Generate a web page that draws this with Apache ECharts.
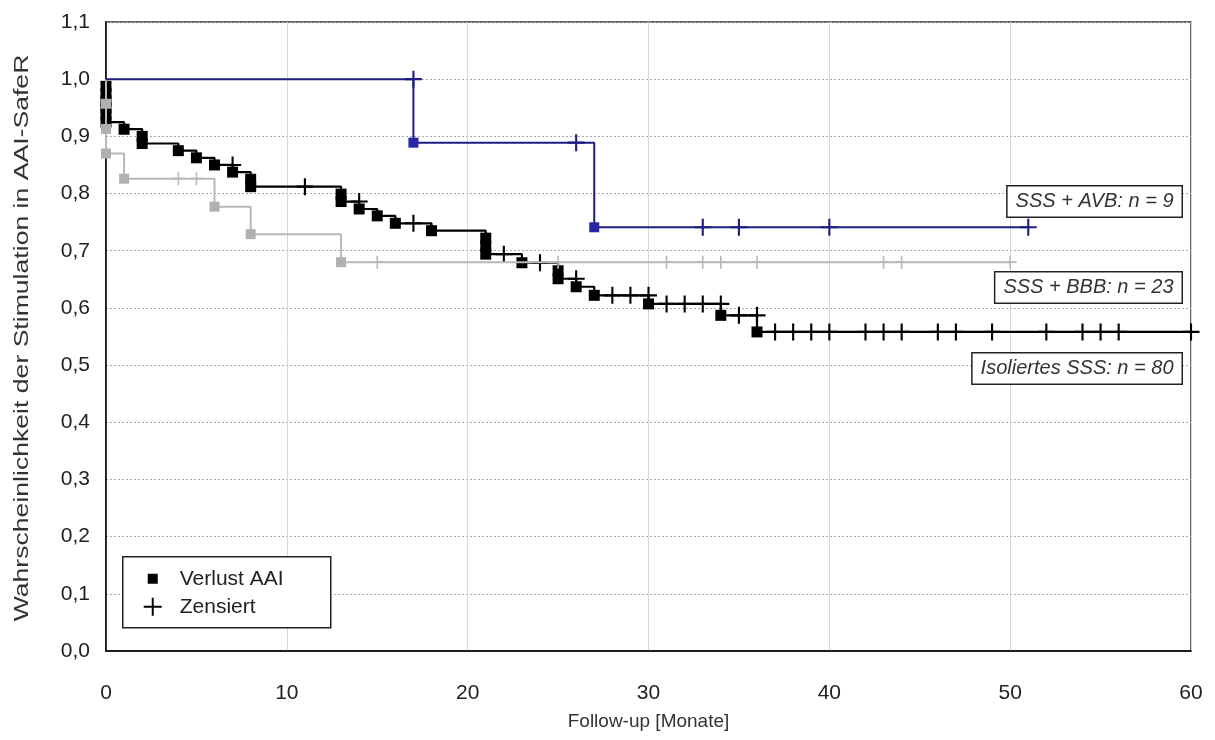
<!DOCTYPE html>
<html><head><meta charset="utf-8">
<script src="https://cdn.jsdelivr.net/npm/echarts@6/dist/echarts.min.js"></script>
<style>html,body{margin:0;padding:0;background:#fff}#c{width:1215px;height:740px}</style>
</head><body><div id="c"></div>
<script>
// Isoliertes SSS (n = 80)
const blackEventTimes  = [0,0,0,0,0,0,1,2,2,4,5,6,7,8,8,13,13,14,15,16,18,21,21,21,23,25,25,26,27,30,34,36];
const blackEventValues = [0.9875,0.975,0.9625,0.95,0.9375,0.925,0.9125,0.9,0.8875,0.875,0.8625,0.85,0.8375,0.825,0.812,0.799,0.786,0.773,0.761,0.748,0.735,0.722,0.708,0.694,0.679,0.665,0.651,0.637,0.622,0.607,0.587,0.558];
const blackCensorTimes = [7,11,14,17,22,24,26,28,29,30,31,32,33,34,35,36,37,38,39,40,42,43,44,46,47,49,52,54,55,56,60];
// SSS + BBB (n = 23)
const grayEventTimes  = [0,0,0,1,6,8,13];
const grayEventValues = [0.957,0.913,0.870,0.826,0.777,0.729,0.680];
const grayCensorTimes = [4,5,15,25,31,33,34,36,43,44,50];
// SSS + AVB (n = 9)
const blueEventTimes  = [17,27];
const blueEventValues = [0.889,0.741];
const blueCensorTimes = [17,26,33,35,40,51];

const groupLabels = ['SSS + AVB: n = 9','SSS + BBB: n = 23','Isoliertes SSS: n = 80'];
const legendLabels = ['Verlust AAI','Zensiert'];
const xAxisTitle = 'Follow-up [Monate]';
const yAxisTitle = 'Wahrscheinlichkeit der Stimulation in AAI-SafeR';

const FONT = '"Liberation Sans", Arial, sans-serif';
const PLUS = 'path://M7,0 L9,0 L9,7 L16,7 L16,9 L9,9 L9,16 L7,16 L7,9 L0,9 L0,7 L7,7 Z';

function stepData(times, vals, censors){
  const pts = [[0,1]];
  times.forEach((t,i)=>pts.push([t, vals[i]]));
  const end = Math.max(times[times.length-1], ...censors);
  pts.push([end, vals[vals.length-1]]);
  return pts;
}
function censorData(times, vals, censors){
  return censors.map(c=>{
    let s = 1;
    times.forEach((t,i)=>{ if (t < c) s = vals[i]; });
    return [c, s];
  });
}
function group(name, times, vals, censors, lineColor, markColor, sq, cs, lw, z){
  return [
    {type:'line', name:name+'L', data:stepData(times, vals, censors), step:'end', symbol:'none',
     lineStyle:{color:lineColor, width:lw}, z:z, silent:true},
    {type:'scatter', name:name+'E', data:times.map((t,i)=>[t, vals[i]]), symbol:'rect', symbolSize:sq,
     itemStyle:{color:markColor, opacity:1}, z:z+1, silent:true},
    {type:'scatter', name:name+'C', data:censorData(times, vals, censors), symbol:PLUS, symbolSize:cs,
     itemStyle:{color:lineColor, opacity:1}, z:z+1, silent:true}
  ];
}

const labelStyle = {font:'italic 20px '+FONT, fill:'#333', backgroundColor:'#fff', borderColor:'#222', borderWidth:1.5, padding:[5,8,5,8]};

const chart = echarts.init(document.getElementById('c'), null, {renderer:'canvas'});
chart.setOption({
  animation:false,
  backgroundColor:'#fff',
  grid:{left:106, right:24, top:22, bottom:89, show:true, borderColor:'#333', borderWidth:1.5, backgroundColor:'transparent'},
  xAxis:{type:'value', min:0, max:60, interval:10,
    axisLine:{show:true, lineStyle:{color:'#000', width:1.5}}, axisTick:{show:false},
    axisLabel:{fontSize:21, color:'#222', fontFamily:FONT, margin:32},
    splitLine:{show:true, lineStyle:{color:'#d6d6d6', width:1}},
    name:xAxisTitle, nameLocation:'middle', nameGap:61,
    nameTextStyle:{fontSize:19, color:'#333', fontFamily:FONT}},
  yAxis:{type:'value', min:0, max:1.1, interval:0.1,
    axisLine:{show:true, lineStyle:{color:'#000', width:1.5}}, axisTick:{show:false},
    axisLabel:{fontSize:21, color:'#222', fontFamily:FONT, margin:16,
      formatter:v=>v.toFixed(1).replace('.', ',')},
    splitLine:{show:true, lineStyle:{color:'#aaa', width:1, type:[2,2]}}},
  series:[
    ...group('iso', blackEventTimes, blackEventValues, blackCensorTimes, '#000', '#000', 11, 17, 2.2, 10),
    ...group('bbb', grayEventTimes, grayEventValues, grayCensorTimes, '#b8b8b8', '#b0b0b0', 10, 13, 2, 20),
    ...group('avb', blueEventTimes, blueEventValues, blueCensorTimes, '#1e1e82', '#2626a6', 10, 17, 2, 30)
  ],
  graphic:[
    {type:'text', x:22, y:338, rotation:Math.PI/2, scaleX:1.33, z:100,
      style:{text:yAxisTitle, font:'20px '+FONT, fill:'#333', align:'center', verticalAlign:'middle'}},
    {type:'text', right:32, top:185, z:100, style:Object.assign({text:groupLabels[0]}, labelStyle)},
    {type:'text', right:32, top:271, z:100, style:Object.assign({text:groupLabels[1]}, labelStyle)},
    {type:'text', right:32, top:352, z:100, style:Object.assign({text:groupLabels[2]}, labelStyle)},
    {type:'group', left:122, top:556, z:100, children:[
      {type:'rect', shape:{x:0, y:0, width:208, height:71}, style:{fill:'#fff', stroke:'#222', lineWidth:1.5}, z:100},
      {type:'rect', shape:{x:25, y:17, width:10, height:10}, style:{fill:'#000'}, z:101},
      {type:'text', x:57, y:22, style:{text:legendLabels[0], font:'21px '+FONT, fill:'#222', verticalAlign:'middle'}, z:101},
      {type:'line', shape:{x1:21, y1:50, x2:39, y2:50}, style:{stroke:'#000', lineWidth:2}, z:101},
      {type:'line', shape:{x1:30, y1:41, x2:30, y2:59}, style:{stroke:'#000', lineWidth:2}, z:101},
      {type:'text', x:57, y:50, style:{text:legendLabels[1], font:'21px '+FONT, fill:'#222', verticalAlign:'middle'}, z:101}
    ]}
  ]
});
</script></body></html>
